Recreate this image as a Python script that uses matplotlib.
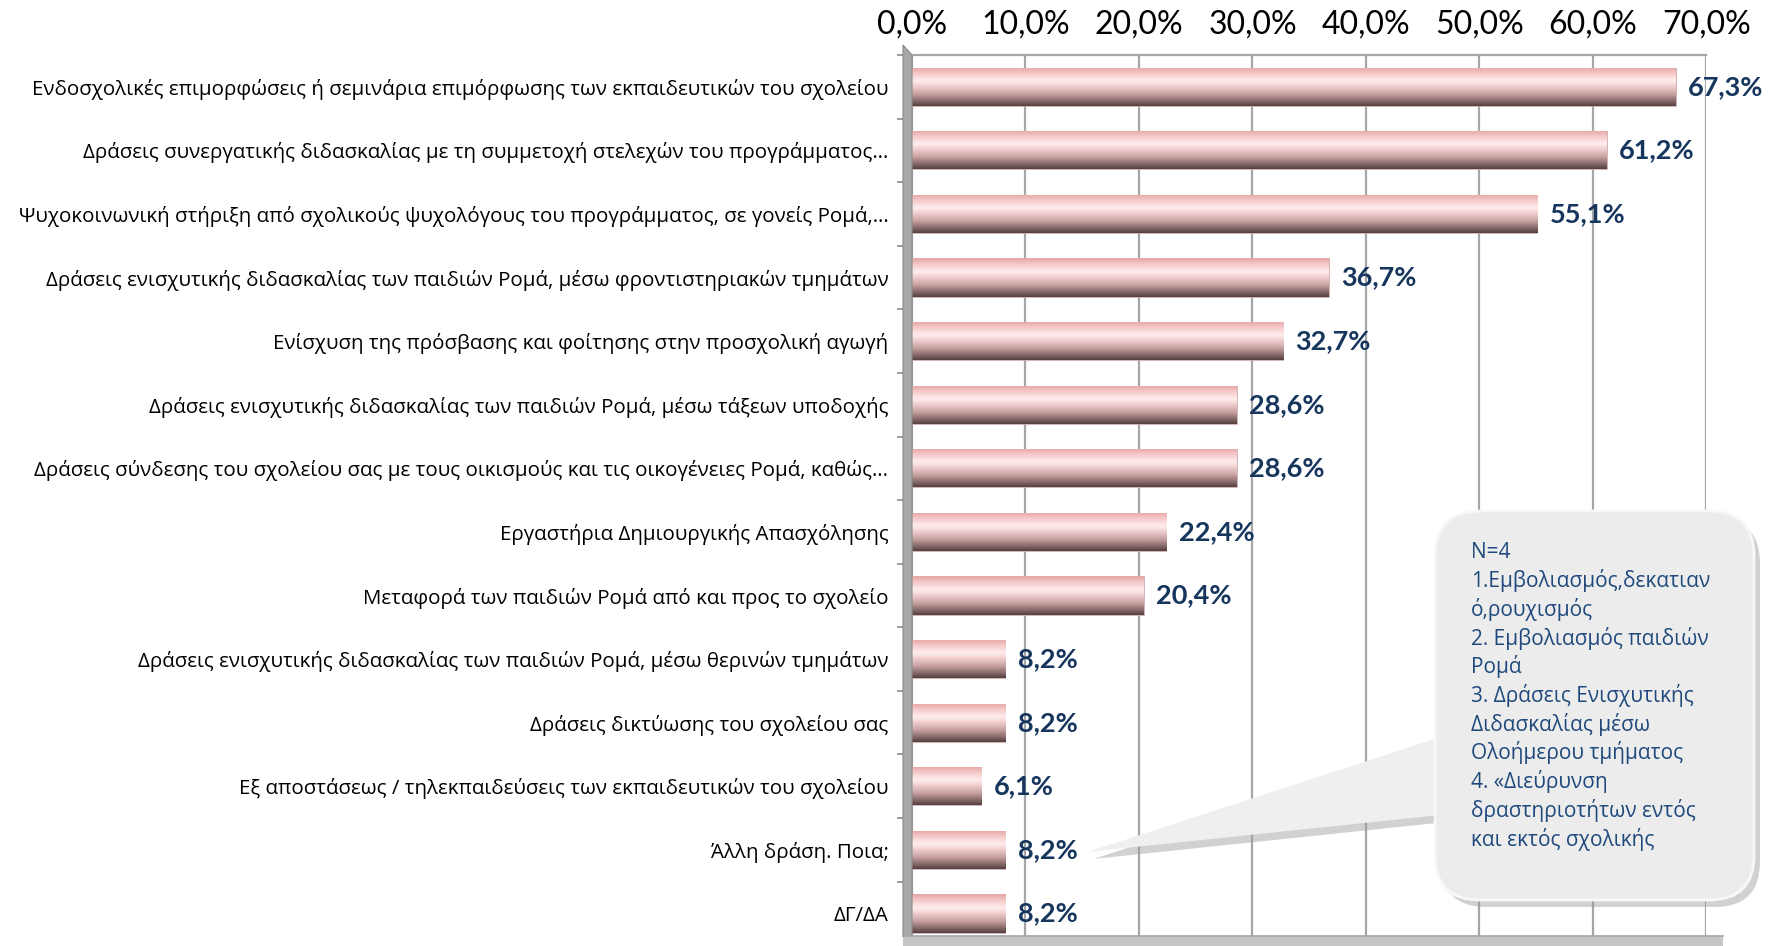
import matplotlib
matplotlib.use("Agg")
import matplotlib.pyplot as plt
import numpy as np
from matplotlib.colors import LinearSegmentedColormap
from matplotlib.patches import FancyBboxPatch, Polygon, Rectangle
from matplotlib.transforms import IdentityTransform
from matplotlib.ticker import FuncFormatter

plt.rcParams['font.family'] = ['Open Sans', 'Noto Sans', 'DejaVu Sans']

# data
categories = [
    'Ενδοσχολικές επιμορφώσεις ή σεμινάρια επιμόρφωσης των εκπαιδευτικών του σχολείου',
    'Δράσεις συνεργατικής διδασκαλίας με τη συμμετοχή στελεχών του προγράμματος…',
    'Ψυχοκοινωνική στήριξη από σχολικούς ψυχολόγους του προγράμματος, σε γονείς Ρομά,…',
    'Δράσεις ενισχυτικής διδασκαλίας των παιδιών Ρομά, μέσω φροντιστηριακών τμημάτων',
    'Ενίσχυση της πρόσβασης και φοίτησης στην προσχολική αγωγή',
    'Δράσεις ενισχυτικής διδασκαλίας των παιδιών Ρομά, μέσω τάξεων υποδοχής',
    'Δράσεις σύνδεσης του σχολείου σας με τους οικισμούς και τις οικογένειες Ρομά, καθώς…',
    'Εργαστήρια Δημιουργικής Απασχόλησης',
    'Μεταφορά των παιδιών Ρομά από και προς το σχολείο',
    'Δράσεις ενισχυτικής διδασκαλίας των παιδιών Ρομά, μέσω θερινών τμημάτων',
    'Δράσεις δικτύωσης του σχολείου σας',
    'Εξ αποστάσεως / τηλεκπαιδεύσεις των εκπαιδευτικών του σχολείου',
    'Άλλη δράση. Ποια;',
    'ΔΓ/ΔΑ',
]
values = [67.3, 61.2, 55.1, 36.7, 32.7, 28.6, 28.6, 22.4, 20.4, 8.2, 8.2, 6.1, 8.2, 8.2]
xticks = [0, 10, 20, 30, 40, 50, 60, 70]
note_lines = [
    'N=4',
    '1.Εμβολιασμός,δεκατιαν',
    'ό,ρουχισμός',
    '2. Εμβολιασμός παιδιών',
    'Ρομά',
    '3. Δράσεις Ενισχυτικής',
    'Διδασκαλίας μέσω',
    'Ολοήμερου τμήματος',
    '4. «Διεύρυνση',
    'δραστηριοτήτων εντός',
    'και εκτός σχολικής',
]
note_target = 12  # the "Άλλη δράση" bar

W, H = 1774, 946
fig = plt.figure(figsize=(W / 100, H / 100), dpi=100)
ax = fig.add_axes([912 / W, 1 - 937 / H, 794.5 / W, (937 - 55) / H])

y = np.arange(len(categories))
bar_h = 0.6
bars = ax.barh(y, values, height=bar_h, color='none', edgecolor='none', zorder=3)

# cylinder-like shading for each bar
bar_cmap = LinearSegmentedColormap.from_list('bar', [
    (0.0, '#E6A6A6'), (0.15, '#F5C8C8'), (0.35, '#FFEDED'), (0.5, '#F0CDCD'),
    (0.7, '#C6A0A0'), (0.88, '#866868'), (1.0, '#554040')])
grad = np.linspace(0, 1, 64).reshape(-1, 1)
for b in bars:
    x0, yb = b.get_x(), b.get_y()
    w, h = b.get_width(), b.get_height()
    im = ax.imshow(grad, cmap=bar_cmap, aspect='auto', interpolation='bicubic',
                   extent=[x0, x0 + w, yb + h, yb], zorder=3)
    im.set_clip_path(b)
    b.set_edgecolor('#C9A9A9')
    b.set_linewidth(0.6)

for v, yi in zip(values, y):
    ax.text(v + 1.1, yi, f'{v:.1f}%'.replace('.', ','), va='center', ha='left',
            fontsize=19.5, fontweight='bold', color='#17365D', zorder=5,
            family=['Lato', 'DejaVu Sans'])

ax.set_xlim(0, 70)
ax.set_ylim(13.37, -0.5)
ax.set_xticks(xticks)
ax.xaxis.set_major_formatter(FuncFormatter(lambda v, p: f'{v:.1f}%'.replace('.', ',')))
ax.xaxis.tick_top()
ax.tick_params(axis='x', length=0, pad=11)
for t in ax.get_xticklabels():
    t.set_family(['Lato', 'DejaVu Sans'])
    t.set_fontsize(23)
ax.set_yticks(y)
ax.set_yticklabels(categories, fontsize=14.75)
ax.tick_params(axis='y', which='major', length=0, pad=17)
ax.set_yticks(np.arange(-0.5, 13, 1), minor=True)
ax.tick_params(axis='y', which='minor', length=11, width=1.2, color='#8C8C8C')

ax.set_axisbelow(True)
ax.grid(axis='x', color='#A6A6A6', lw=1.6)
for s in ['left', 'right', 'bottom']:
    ax.spines[s].set_visible(False)
ax.spines['top'].set_color('#A6A6A6')
ax.spines['top'].set_linewidth(1.6)

# 3D side wall and floor of the plot area
px = IdentityTransform()
fig.add_artist(Polygon([(903, H - 45), (912, H - 55), (912, H - 937), (903, H - 937)],
                       closed=True, facecolor='#A8A8A8', edgecolor='#8A8A8A', lw=0.8,
                       transform=px, zorder=2))
fig.add_artist(Rectangle((903, 0), 820, H - 936, facecolor='#C6C6C6',
                         edgecolor='none', transform=px, zorder=2))
fig.add_artist(plt.Line2D([903, 1723], [H - 936, H - 936], color='#A6A6A6', lw=1.2,
                          transform=px, zorder=2))

# callout box with the "other" answers
bx0, by0, bx1, by1 = 1435, H - 900, 1754, H - 511
tip = ax.transData.transform((values[note_target] + 7.3, note_target))
tip = (tip[0], tip[1] - 2)
wedge = [tip, (1450, H - 734), (1450, H - 814)]
shadow_off = (6, -7)
fig.add_artist(FancyBboxPatch((bx0 + shadow_off[0], by0 + shadow_off[1]), bx1 - bx0, by1 - by0,
                              boxstyle='round,pad=0,rounding_size=45', facecolor='#9A9A9A',
                              edgecolor='none', alpha=0.45, transform=px, zorder=6))
fig.add_artist(Polygon([(p[0] + shadow_off[0], p[1] + shadow_off[1]) for p in wedge],
                       closed=True, facecolor='#9A9A9A', edgecolor='none', alpha=0.45,
                       transform=px, zorder=6))
fig.add_artist(Polygon(wedge, closed=True, facecolor='#EFEFEF', edgecolor='none',
                       transform=px, zorder=7))
fig.add_artist(FancyBboxPatch((bx0, by0), bx1 - bx0, by1 - by0,
                              boxstyle='round,pad=0,rounding_size=45', facecolor='#ECECEC',
                              edgecolor='#F8F8F8', lw=2, transform=px, zorder=7))
for i, line in enumerate(note_lines):
    fig.text(1471 / W, 1 - (552 + i * 28.7) / H, line, ha='left', va='center',
             fontsize=15, color='#1F497D', zorder=8)

fig.savefig('out.png', dpi=100)
